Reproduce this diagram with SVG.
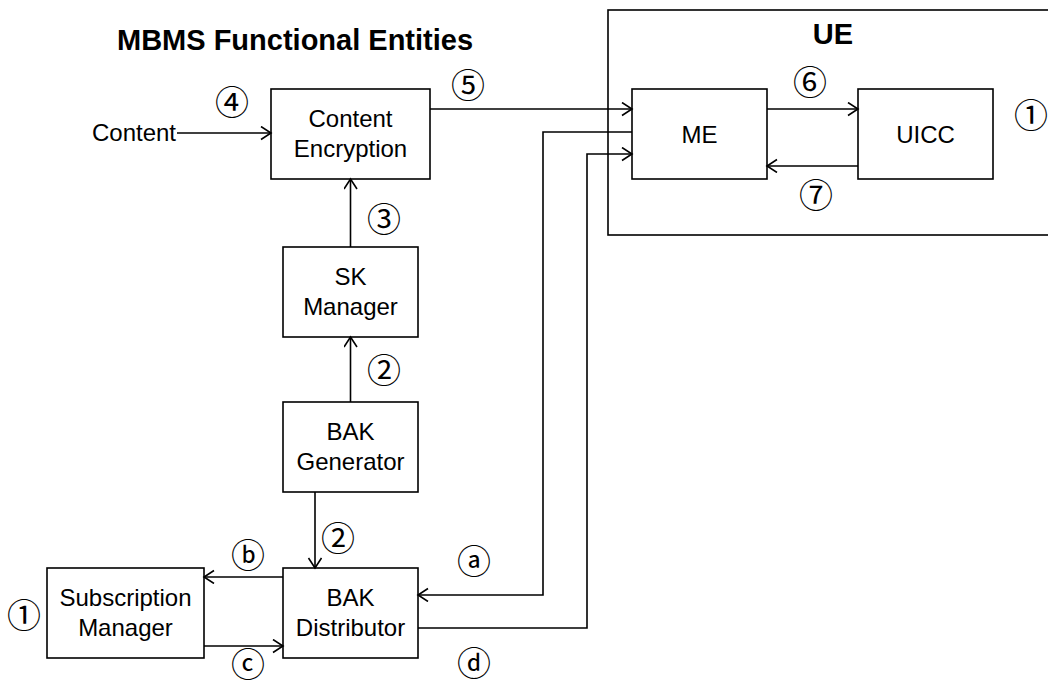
<svg xmlns="http://www.w3.org/2000/svg" width="1048" height="686" viewBox="0 0 1048 686">
  <style>
    .box { fill: #fff; stroke: #000; stroke-width: 1.6; }
    .frame { fill: none; stroke: #000; stroke-width: 1.6; }
    .lbl { font-family: "Liberation Sans", Arial, sans-serif; font-size: 24px; fill: #000; text-anchor: middle; }
    .head { font-family: "Liberation Sans", Arial, sans-serif; font-size: 29px; font-weight: bold; fill: #000; }
    .num { font-family: "Noto Sans CJK JP", "DejaVu Sans", sans-serif; font-size: 34px; fill: #000; text-anchor: middle; dominant-baseline: central; }
    .wire { fill: none; stroke: #000; stroke-width: 1.6; }
    .arr { marker-end: url(#open); }
  </style>
  <defs>
    <marker id="open" markerUnits="userSpaceOnUse" markerWidth="14" markerHeight="16" refX="11" refY="7" orient="auto">
      <path d="M1,0.5 L11,7 L1,13.5" fill="none" stroke="#000" stroke-width="1.6"/>
    </marker>
  </defs>

  <rect width="1048" height="686" fill="#fff"/>

  <!-- headings -->
  <text class="head" x="117" y="50">MBMS Functional Entities</text>

  <!-- UE enclosure -->
  <g id="ue">
    <rect class="frame" x="608" y="10" width="460" height="225"/>
    <text class="head" x="833" y="44" text-anchor="middle">UE</text>
    <text class="num" x="1031" y="113">①</text>
  </g>

  <g id="content-encryption">
    <rect class="box" x="271" y="89" width="159" height="90"/>
    <text class="lbl" x="350.5" y="127">Content</text>
    <text class="lbl" x="350.5" y="157">Encryption</text>
  </g>

  <g id="me">
    <rect class="box" x="632" y="89" width="135" height="90"/>
    <text class="lbl" x="699.5" y="143">ME</text>
  </g>

  <g id="uicc">
    <rect class="box" x="858" y="89" width="135" height="90"/>
    <text class="lbl" x="925.5" y="143">UICC</text>
  </g>

  <g id="sk-manager">
    <rect class="box" x="283" y="247" width="135" height="90"/>
    <text class="lbl" x="350.5" y="285">SK</text>
    <text class="lbl" x="350.5" y="315">Manager</text>
  </g>

  <g id="bak-generator">
    <rect class="box" x="283" y="402" width="135" height="90"/>
    <text class="lbl" x="350.5" y="440">BAK</text>
    <text class="lbl" x="350.5" y="470">Generator</text>
  </g>

  <g id="bak-distributor">
    <rect class="box" x="283" y="568" width="135" height="90"/>
    <text class="lbl" x="350.5" y="606">BAK</text>
    <text class="lbl" x="350.5" y="636">Distributor</text>
  </g>

  <g id="subscription-manager">
    <rect class="box" x="47" y="568" width="157" height="90"/>
    <text class="lbl" x="125.5" y="606">Subscription</text>
    <text class="lbl" x="125.5" y="636">Manager</text>
    <text class="num" x="24" y="613">①</text>
  </g>

  <g id="connectors">
    <!-- content source -->
    <text class="lbl" x="134" y="141">Content</text>
    <path class="wire arr" d="M177,133 H271"/>
    <text class="num" x="232" y="100">④</text>

    <!-- SK -> encryption -->
    <path class="wire arr" d="M350.5,247 V179"/>
    <text class="num" x="384" y="217">③</text>

    <!-- BAK generator -> SK -->
    <path class="wire arr" d="M350.5,402 V337"/>
    <text class="num" x="384" y="368">②</text>

    <!-- BAK generator -> distributor -->
    <path class="wire arr" d="M315,492 V568"/>
    <text class="num" x="338" y="536">②</text>

    <!-- distributor <-> subscription manager -->
    <path class="wire arr" d="M283,577 H204"/>
    <text class="num" x="248" y="553">ⓑ</text>
    <path class="wire arr" d="M204,646 H283"/>
    <text class="num" x="248" y="662">ⓒ</text>

    <!-- encryption -> ME -->
    <path class="wire arr" d="M430,109 H632"/>
    <text class="num" x="468" y="83">⑤</text>

    <!-- ME -> distributor -->
    <path class="wire arr" d="M632,132 H543 V595 H418"/>
    <text class="num" x="474" y="559">ⓐ</text>

    <!-- distributor -> ME -->
    <path class="wire arr" d="M418,628 H587 V154 H632"/>
    <text class="num" x="474" y="661">ⓓ</text>

    <!-- ME <-> UICC -->
    <path class="wire arr" d="M767,109 H858"/>
    <text class="num" x="810" y="80">⑥</text>
    <path class="wire arr" d="M858,166 H767"/>
    <text class="num" x="816" y="193">⑦</text>
  </g>
</svg>
